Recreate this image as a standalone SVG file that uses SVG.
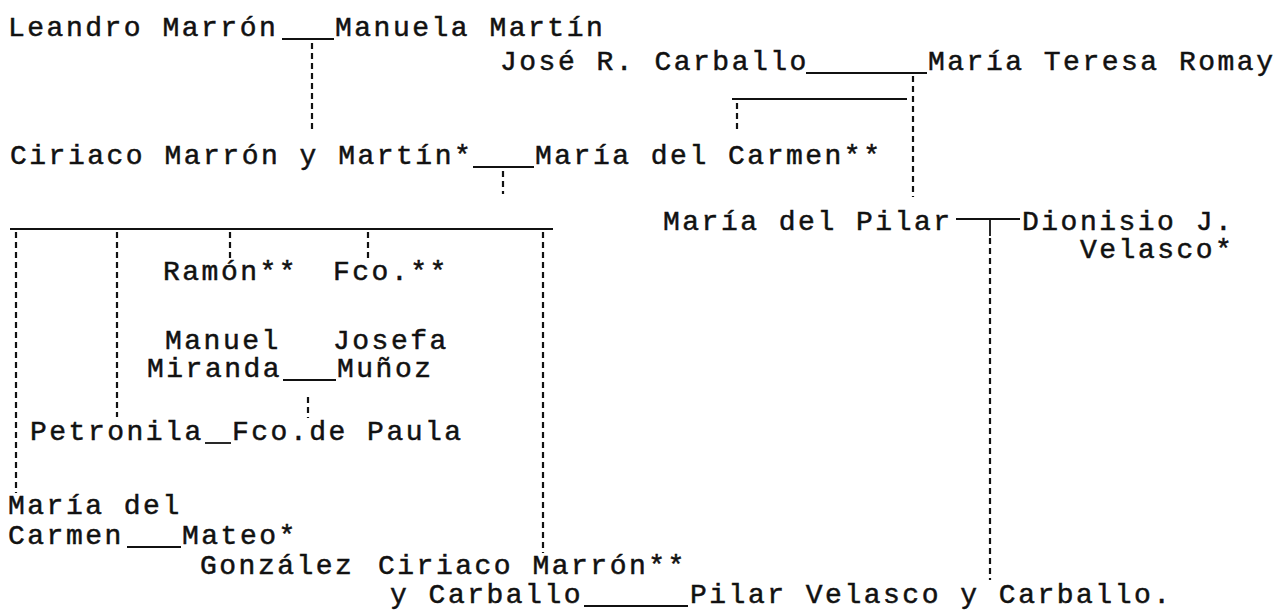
<svg xmlns="http://www.w3.org/2000/svg" width="1284" height="611" viewBox="0 0 1284 611">
<style>
text{font-family:"Liberation Mono","Courier New",monospace;font-size:28px;letter-spacing:2.5px;fill:#111;stroke:#111;stroke-width:0.5}
.solid{stroke:#111;stroke-width:1.8;fill:none}
.dash{stroke:#111;stroke-width:2.2;stroke-dasharray:6 4;fill:none}
</style>
<rect width="1284" height="611" fill="#fff"/>
<g id="connectors">
<line class="solid" x1="282" y1="39" x2="334" y2="39"/>
<line class="dash" x1="312" y1="43" x2="312" y2="133"/>
<line class="solid" x1="806" y1="73" x2="927" y2="73"/>
<line class="solid" x1="732" y1="99" x2="907" y2="99"/>
<line class="dash" x1="737" y1="103" x2="737" y2="133"/>
<line class="dash" x1="913" y1="76" x2="913" y2="197"/>
<line class="solid" x1="473" y1="167" x2="534" y2="167"/>
<line class="dash" x1="503" y1="171" x2="503" y2="194"/>
<line class="solid" x1="10" y1="229" x2="553" y2="229"/>
<line class="dash" x1="16" y1="232" x2="16" y2="493"/>
<line class="dash" x1="117" y1="232" x2="117" y2="417"/>
<line class="dash" x1="230" y1="232" x2="230" y2="262"/>
<line class="dash" x1="368" y1="232" x2="368" y2="262"/>
<line class="dash" x1="543" y1="232" x2="543" y2="553"/>
<line class="solid" x1="956" y1="219" x2="1020" y2="219"/>
<line class="solid" x1="990" y1="219" x2="990" y2="236"/>
<line class="dash" x1="990" y1="238" x2="990" y2="580"/>
<line class="solid" x1="283" y1="380" x2="336" y2="380"/>
<line class="dash" x1="308" y1="397" x2="308" y2="418"/>
<line class="solid" x1="205" y1="443" x2="231" y2="443"/>
<line class="solid" x1="127" y1="547" x2="181" y2="547"/>
<line class="solid" x1="584" y1="606" x2="688" y2="606"/>
</g>
<g id="n-leandro"><text x="8" y="36">Leandro Marrón</text></g>
<g id="n-manuela"><text x="335" y="36">Manuela Martín</text></g>
<g id="n-jose"><text x="500" y="70">José R. Carballo</text></g>
<g id="n-mteresa"><text x="928" y="70">María Teresa Romay</text></g>
<g id="n-ciriaco1"><text x="10" y="164">Ciriaco Marrón y Martín*</text></g>
<g id="n-mcarmen1"><text x="535" y="164">María del Carmen**</text></g>
<g id="n-mpilar"><text x="663" y="230">María del Pilar</text></g>
<g id="n-dionisio"><text><tspan x="1022" y="230">Dionisio J.</tspan><tspan x="1080" y="258">Velasco*</tspan></text></g>
<g id="n-ramon"><text x="163" y="280">Ramón**</text></g>
<g id="n-fco"><text x="333" y="280">Fco.**</text></g>
<g id="n-manuel"><text><tspan x="165" y="349">Manuel</tspan><tspan x="147" y="377">Miranda</tspan></text></g>
<g id="n-josefa"><text><tspan x="333" y="349">Josefa</tspan><tspan x="337" y="377">Muñoz</tspan></text></g>
<g id="n-petronila"><text x="30" y="440">Petronila</text></g>
<g id="n-fcopaula"><text x="232" y="440">Fco.de Paula</text></g>
<g id="n-mcarmen2"><text><tspan x="8" y="514">María del</tspan><tspan x="8" y="544">Carmen</tspan></text></g>
<g id="n-mateo"><text><tspan x="182" y="544">Mateo*</tspan><tspan x="200" y="574">González</tspan></text></g>
<g id="n-ciriaco2"><text><tspan x="378" y="574">Ciriaco Marrón**</tspan><tspan x="390" y="603">y Carballo</tspan></text></g>
<g id="n-pilarv"><text x="690" y="603">Pilar Velasco y Carballo.</text></g>
</svg>
